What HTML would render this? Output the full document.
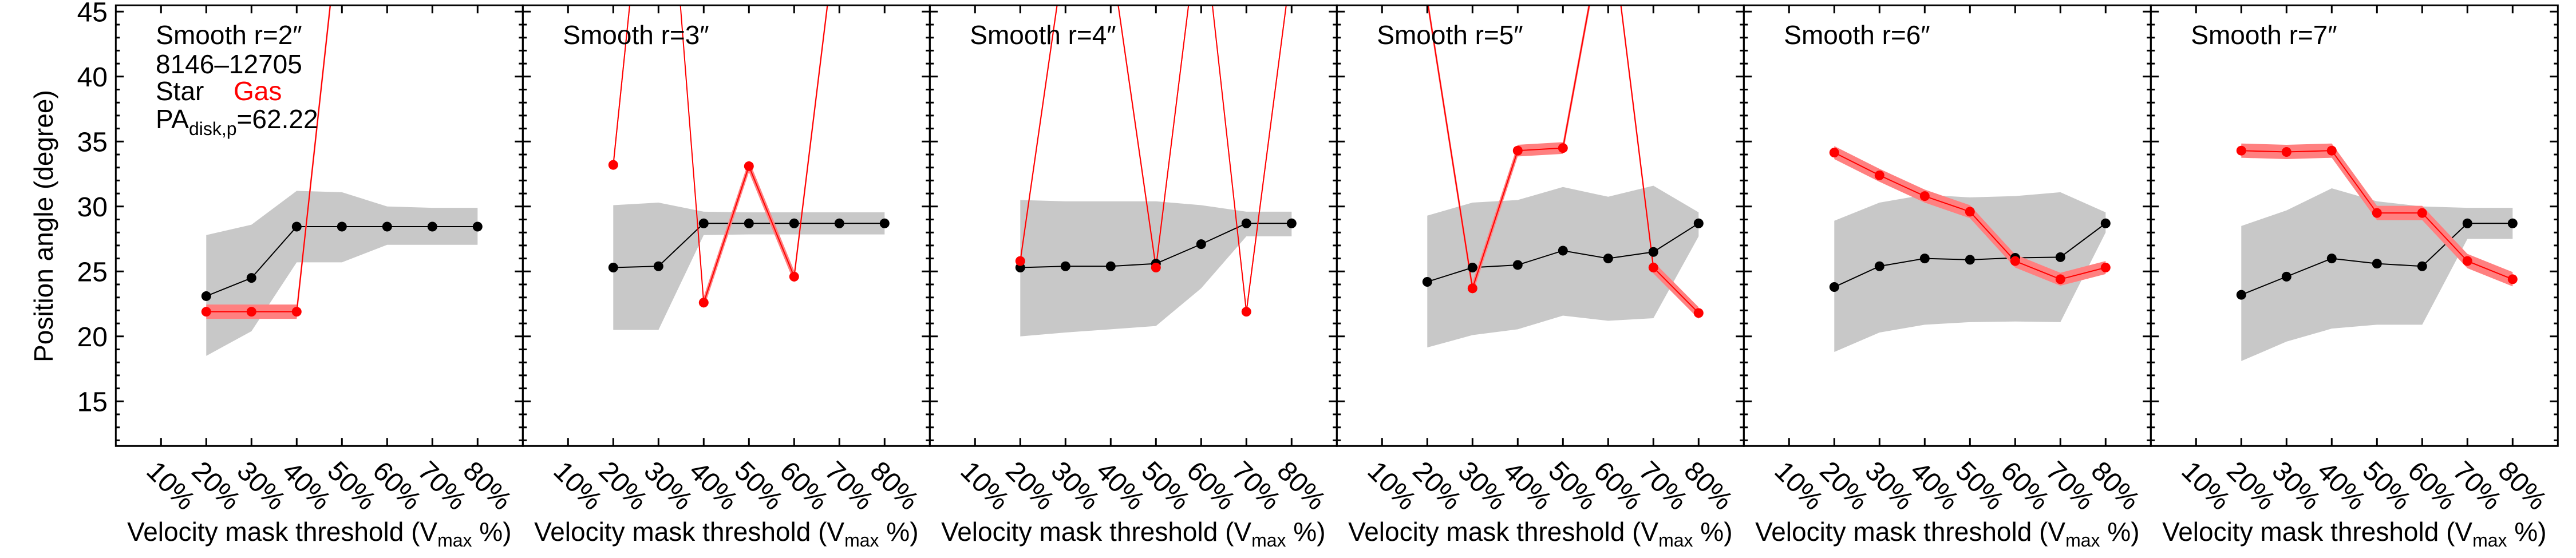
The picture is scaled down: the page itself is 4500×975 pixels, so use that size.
<!DOCTYPE html>
<html><head><meta charset="utf-8"><style>
html,body{margin:0;padding:0;background:#fff}
svg{display:block;font-family:"Liberation Sans",Arial,sans-serif}
</style></head><body>
<svg id="chart" width="4500" height="975" viewBox="0 0 4500 975" xmlns="http://www.w3.org/2000/svg"></svg>
<script>
const thresholds = [20, 30, 40, 50, 60, 70, 80];
const xTickLabels = ["10%", "20%", "30%", "40%", "50%", "60%", "70%", "80%"];
const xTickValues = [10, 20, 30, 40, 50, 60, 70, 80];
const yTickValues = [15, 20, 25, 30, 35, 40, 45];
const smoothRadii = [2, 3, 4, 5, 6, 7];

const starPA = [
  [23.1, 24.5, 28.45, 28.45, 28.45, 28.45, 28.45],
  [25.3, 25.4, 28.7, 28.7, 28.7, 28.7, 28.7],
  [25.3, 25.4, 25.4, 25.6, 27.1, 28.7, 28.7],
  [24.2, 25.3, 25.5, 26.6, 26.0, 26.5, 28.7],
  [23.8, 25.4, 26.0, 25.9, 26.05, 26.1, 28.7],
  [23.2, 24.6, 26.0, 25.6, 25.4, 28.7, 28.7]
];
const starUpper = [
  [27.8, 28.6, 31.2, 31.1, 30.0, 29.9, 29.9],
  [30.1, 30.3, 29.6, 29.55, 29.55, 29.55, 29.55],
  [30.5, 30.4, 30.4, 30.4, 30.1, 29.6, 29.6],
  [29.3, 30.3, 30.5, 31.5, 30.75, 31.6, 29.55],
  [28.9, 30.3, 30.9, 30.7, 30.8, 31.1, 29.55],
  [28.5, 29.7, 31.4, 30.4, 30.0, 29.9, 29.9]
];
const starLower = [
  [18.5, 20.4, 25.7, 25.7, 27.05, 27.05, 27.05],
  [20.5, 20.5, 27.8, 27.85, 27.85, 27.85, 27.85],
  [20.0, 20.3, 20.55, 20.8, 23.7, 27.7, 27.7],
  [19.15, 20.1, 20.55, 21.6, 21.2, 21.4, 27.7],
  [18.8, 20.3, 20.9, 21.1, 21.15, 21.1, 28.0],
  [18.1, 19.6, 20.6, 20.9, 20.9, 27.5, 27.5]
];
const gasPA = [
  [21.9, 21.9, 21.9, 53.7, 60, 60, 60],
  [33.2, 67, 22.6, 33.1, 24.6, 53, 60],
  [25.8, 50, 49.5, 25.3, 53.3, 21.9, 48.7],
  [45.9, 23.7, 34.3, 34.5, 53.4, 25.3, 21.8],
  [34.15, 32.4, 30.8, 29.6, 25.8, 24.4, 25.3],
  [34.3, 34.2, 34.3, 29.5, 29.5, 25.8, 24.4]
];
const gasErr = [
  [0.55, 0.55, 0.55, 0.55, 0.55, 0.55, 0.55],
  [0.45, 0.45, 0.45, 0.45, 0.45, 0.45, 0.45],
  [0.35, 0.35, 0.35, 0.35, 0.35, 0.35, 0.35],
  [0.45, 0.45, 0.45, 0.45, 0.45, 0.45, 0.45],
  [0.5, 0.5, 0.5, 0.5, 0.5, 0.5, 0.5],
  [0.55, 0.55, 0.55, 0.55, 0.55, 0.55, 0.55]
];

const NS = "http://www.w3.org/2000/svg";
const svg = document.getElementById("chart");
const PANEL_LEFT0 = 202.3, PANEL_W = 711, TOP = 9.3, BOTTOM = 779.3;
const XMIN = 0, XMAX = 90, YTOP_V = 45, Y45 = 20.3, PXDEG = 22.7;
function xScale(panel, v){ return PANEL_LEFT0 + panel*PANEL_W + (v - XMIN)/(XMAX - XMIN)*PANEL_W; }
function yScale(v){ return Y45 + (YTOP_V - v)*PXDEG; }
function mk(tag, attrs, parent){
  const e = document.createElementNS(NS, tag);
  for (const k in attrs) e.setAttribute(k, attrs[k]);
  (parent || svg).appendChild(e);
  return e;
}

const defs = mk("defs", {});
for (let p = 0; p < 6; p++) {
  const cp = mk("clipPath", {id: "clip" + p}, defs);
  mk("rect", {x: xScale(p, 0), y: TOP, width: PANEL_W, height: BOTTOM - TOP}, cp);
}

for (let p = 0; p < 6; p++) {
  const g = mk("g", {});
  
  
  const data = mk("g", {"clip-path": "url(#clip" + p + ")"}, g);

  let pts = [];
  thresholds.forEach((t, i) => pts.push(xScale(p, t) + "," + yScale(starUpper[p][i])));
  for (let i = thresholds.length - 1; i >= 0; i--) pts.push(xScale(p, thresholds[i]) + "," + yScale(starLower[p][i]));
  const band = mk("polygon", {points: pts.join(" "), fill: "#c8c8c8"}, data);
  
  

  const sl = mk("polyline", {points: thresholds.map((t, i) => xScale(p, t) + "," + yScale(starPA[p][i])).join(" "), fill: "none", stroke: "#000", "stroke-width": 2}, data);
  
  

  pts = [];
  thresholds.forEach((t, i) => pts.push(xScale(p, t) + "," + yScale(gasPA[p][i] + gasErr[p][i])));
  for (let i = thresholds.length - 1; i >= 0; i--) pts.push(xScale(p, thresholds[i]) + "," + yScale(gasPA[p][i] - gasErr[p][i]));
  const gb = mk("polygon", {points: pts.join(" "), fill: "#ff8080"}, data);
  
  

  const gl = mk("polyline", {points: thresholds.map((t, i) => xScale(p, t) + "," + yScale(gasPA[p][i])).join(" "), fill: "none", stroke: "#ff0000", "stroke-width": 2}, data);
  
  

  thresholds.forEach((t, i) => {
    const c = mk("circle", {cx: xScale(p, t), cy: yScale(starPA[p][i]), r: 8.5, fill: "#000"}, data);
    
    
  });
  thresholds.forEach((t, i) => {
    const c = mk("circle", {cx: xScale(p, t), cy: yScale(gasPA[p][i]), r: 8.5, fill: "#ff0000"}, data);
    
    
  });

  const L = xScale(p, 0), R = xScale(p, 90);
  const fr = mk("rect", {x: L, y: TOP, width: PANEL_W, height: BOTTOM - TOP, fill: "none", stroke: "#000", "stroke-width": 3}, g);
  
  

  let d = "";
  xTickValues.forEach(v => {
    const x = xScale(p, v);
    d += `M${x},${BOTTOM}v-14M${x},${TOP}v14`;
  });
  for (let v = 12; v <= 45; v++) {
    const y = yScale(v), len = (v % 5 === 0) ? 14 : 7;
    d += `M${L},${y}h${len}M${R},${y}h-${len}`;
  }
  const tk = mk("path", {d: d, stroke: "#000", "stroke-width": 3, fill: "none"}, g);
  
  

  xTickValues.forEach((v, i) => {
    const x = xScale(p, v) - 28, y = 826;
    const t = mk("text", {x: x, y: y, "font-size": 48, transform: `rotate(45 ${x} ${y})`}, g);
    t.textContent = xTickLabels[i];
    
    
  });

  const xt = mk("text", {x: (L + R)/2, y: 945, "font-size": 46, "text-anchor": "middle"}, g);
  
  
  xt.appendChild(document.createTextNode("Velocity mask threshold (V"));
  const sub = mk("tspan", {"font-size": 32, dy: 10}, xt);
  sub.textContent = "max";
  const rest = mk("tspan", {dy: -10}, xt);
  rest.textContent = " %)";

  const pt = mk("text", {x: L + 70, y: 77, "font-size": 46}, g);
  pt.textContent = "Smooth r=" + smoothRadii[p] + "\u2033";
  
  
}

yTickValues.forEach(v => {
  const t = mk("text", {x: 188, y: yScale(v) + 17, "font-size": 48, "text-anchor": "end"});
  t.textContent = String(v);
  
  
});
</script>
<script>
(function(){
  const NS = "http://www.w3.org/2000/svg";
  const svg = document.getElementById("chart");
  function T(x, y, txt, name, extra){
    const t = document.createElementNS(NS, "text");
    t.setAttribute("x", x); t.setAttribute("y", y); t.setAttribute("font-size", 46);
    if (extra) for (const k in extra) t.setAttribute(k, extra[k]);
    t.textContent = txt;
    
    
    svg.appendChild(t);
    return t;
  }
  T(272, 128, "8146\u201312705", "galaxy-id");
  T(272, 175, "Star", "legend-star");
  T(408, 175, "Gas", "legend-gas", {fill: "#ff0000"});
  const pa = T(272, 224, "PA", "disk-pa-label");
  const s = document.createElementNS(NS, "tspan");
  s.setAttribute("font-size", 32); s.setAttribute("dy", 12); s.textContent = "disk,p";
  pa.appendChild(s);
  const r = document.createElementNS(NS, "tspan");
  r.setAttribute("dy", -12); r.textContent = "=62.22";
  pa.appendChild(r);
  T(92, 395, "Position angle (degree)", "y-axis-title", {"text-anchor": "middle", transform: "rotate(-90 92 395)"});
})();
</script>
</body></html>
